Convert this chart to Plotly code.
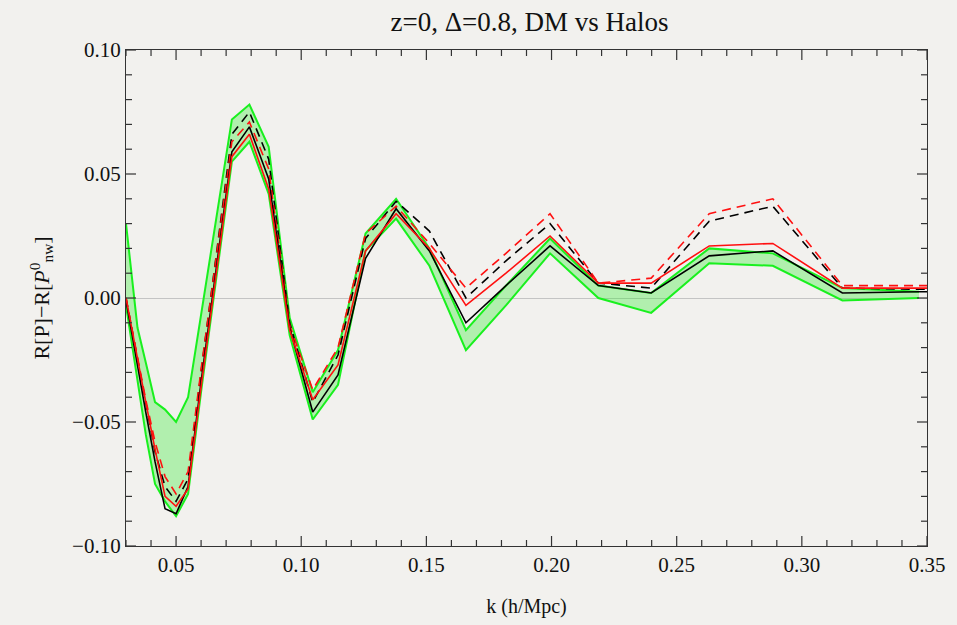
import plotly.graph_objects as go

# k values (h/Mpc)
k = [0.030, 0.0346, 0.0379, 0.0416, 0.0456, 0.0500, 0.0548, 0.0601, 0.0659, 0.0723,
     0.0793, 0.0870, 0.0954, 0.1046, 0.1147, 0.1257, 0.1379, 0.1512, 0.1658, 0.1818,
     0.1994, 0.2187, 0.2398, 0.2630, 0.2884, 0.3162, 0.3468]
k_lines = k + [0.352]

band_upper = [0.030, -0.012, -0.026, -0.042, -0.045, -0.050, -0.040, -0.006, 0.032, 0.072,
              0.078, 0.061, -0.008, -0.038, -0.021, 0.026, 0.040, 0.020, -0.013, 0.005,
              0.024, 0.005, 0.002, 0.020, 0.018, 0.004, 0.0025]
band_lower = [-0.003, -0.033, -0.055, -0.075, -0.082, -0.088, -0.079, -0.037, 0.006, 0.055,
              0.063, 0.042, -0.015, -0.049, -0.035, 0.019, 0.032, 0.013, -0.021, -0.003,
              0.018, 0.000, -0.006, 0.014, 0.013, -0.001, 0.000]
black_solid = [-0.001, -0.028, -0.046, -0.066, -0.085, -0.087, -0.076, -0.033, 0.010, 0.059,
               0.069, 0.048, -0.012, -0.046, -0.031, 0.016, 0.036, 0.019, -0.010, 0.005,
               0.021, 0.005, 0.002, 0.017, 0.019, 0.002, 0.0025, 0.0025]
red_solid = [0.000, -0.025, -0.042, -0.061, -0.080, -0.084, -0.077, -0.035, 0.008, 0.057,
             0.066, 0.044, -0.013, -0.041, -0.027, 0.019, 0.034, 0.020, -0.003, 0.010,
             0.025, 0.006, 0.006, 0.021, 0.022, 0.004, 0.004, 0.004]
black_dashed = [0.000, -0.025, -0.043, -0.062, -0.076, -0.082, -0.073, -0.029, 0.016, 0.066,
                0.075, 0.056, -0.010, -0.042, -0.023, 0.024, 0.039, 0.027, 0.000, 0.015,
                0.030, 0.006, 0.004, 0.031, 0.037, 0.004, 0.0035, 0.0035]
red_dashed = [0.000, -0.024, -0.041, -0.058, -0.072, -0.079, -0.070, -0.028, 0.015, 0.063,
              0.071, 0.052, -0.011, -0.037, -0.020, 0.026, 0.037, 0.022, 0.004, 0.018,
              0.034, 0.006, 0.008, 0.034, 0.040, 0.005, 0.005, 0.005]

GREEN = "#19f01e"
FILL = "rgba(40,235,40,0.32)"
BG = "#f2f1ee"
FONT = "Liberation Serif"
AXC = "#333333"

fig = go.Figure()
fig.add_trace(go.Scatter(x=k, y=band_upper, mode="lines",
                         line=dict(color=GREEN, width=2), showlegend=False))
fig.add_trace(go.Scatter(x=k, y=band_lower, mode="lines", fill="tonexty",
                         fillcolor=FILL, line=dict(color=GREEN, width=2), showlegend=False))
fig.add_trace(go.Scatter(x=k_lines, y=black_dashed, mode="lines",
                         line=dict(color="black", width=1.6, dash="9px,6px"), showlegend=False))
fig.add_trace(go.Scatter(x=k_lines, y=red_dashed, mode="lines",
                         line=dict(color="#ff1010", width=1.6, dash="9px,6px"), showlegend=False))
fig.add_trace(go.Scatter(x=k_lines, y=black_solid, mode="lines",
                         line=dict(color="black", width=1.6), showlegend=False))
fig.add_trace(go.Scatter(x=k_lines, y=red_solid, mode="lines",
                         line=dict(color="#ff1010", width=1.6), showlegend=False))

axis_common = dict(
    showgrid=False, showline=True, linecolor=AXC, linewidth=1.3, mirror=True,
    ticks="", tickfont=dict(family=FONT, size=21, color="#111111"),
    tickformat=".2f", tickmode="linear", dtick=0.05,
)

fig.update_xaxes(range=[0.03, 0.35], tick0=0.05, zeroline=False,
                 title=dict(text="k (h/Mpc)", font=dict(family=FONT, size=20, color="#111111"),
                            standoff=22),
                 **axis_common)
fig.update_yaxes(range=[-0.10, 0.10], tick0=0.0,
                 zeroline=True, zerolinecolor="#c4c4c4", zerolinewidth=1.2,
                 title=dict(text="R[P]\u2212R[<i>P</i><sup>0</sup><sub>nw</sub>]",
                            font=dict(family=FONT, size=22, color="#111111"), standoff=16),
                 **axis_common)

# inward frame ticks (major every 0.05, minor every 0.01) on all four sides
shapes = []
for i in range(3, 36):
    v = round(i * 0.01, 2)
    L = 10 if i % 5 == 0 else 6
    for anchor, sgn in ((0, 1), (1, -1)):
        shapes.append(dict(type="line", xref="x", yref="paper", x0=v, x1=v,
                           ysizemode="pixel", yanchor=anchor, y0=0, y1=sgn * L,
                           line=dict(color=AXC, width=1.2), layer="above"))
for i in range(-10, 11):
    v = round(i * 0.01, 2)
    L = 10 if i % 5 == 0 else 6
    for anchor, sgn in ((0, 1), (1, -1)):
        shapes.append(dict(type="line", yref="y", xref="paper", y0=v, y1=v,
                           xsizemode="pixel", xanchor=anchor, x0=0, x1=sgn * L,
                           line=dict(color=AXC, width=1.2), layer="above"))

fig.update_layout(
    width=957, height=625,
    margin=dict(l=126, r=24, t=50, b=77),
    paper_bgcolor=BG, plot_bgcolor=BG,
    shapes=shapes,
    title=dict(text="z=0, \u0394=0.8, DM vs Halos", x=(126 + 933) / 2 / 957, xanchor="center",
               y=1 - 22 / 625, yanchor="middle",
               font=dict(family=FONT, size=27, color="#111111")),
)

fig.write_html("out.html")
